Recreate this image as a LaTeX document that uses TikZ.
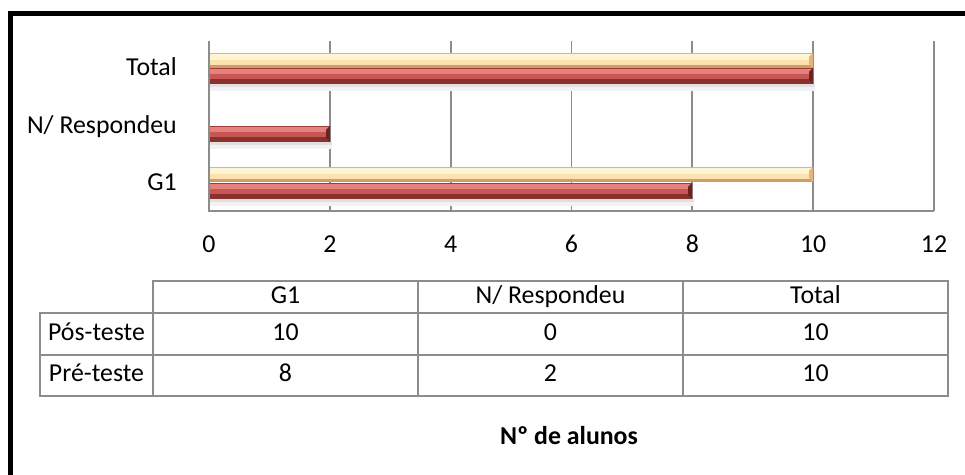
\documentclass[tikz,border=0pt]{standalone}
\usepackage{fontspec}
\setmainfont{Carlito}
\usetikzlibrary{positioning}
\definecolor{grelhacor}{HTML}{8C8C8C}
\definecolor{redA}{HTML}{A03D3A}
\definecolor{redB}{HTML}{E5827E}
\definecolor{redC}{HTML}{C65754}
\definecolor{redD}{HTML}{8C302D}
\definecolor{redE}{HTML}{6E2220}
\definecolor{yelA}{HTML}{E3B083}
\definecolor{yelB}{HTML}{FFF5D3}
\definecolor{yelC}{HTML}{FCE2AE}
\definecolor{yelD}{HTML}{D39C66}
\definecolor{yelE}{HTML}{E9B27C}
% barra de x0 a x1, topo em y0
\newcommand{\barrapre}[3]{%
  \fill[black!12] (#1,#3+16) rectangle (#2+2,#3+19);
  \fill[black!5] (#1,#3+19) rectangle (#2+2,#3+23);
  \fill[redA] (#1,#3) rectangle (#2,#3+1.5);
  \fill[redB] (#1,#3+1.5) rectangle (#2,#3+6);
  \fill[redC] (#1,#3+6) rectangle (#2,#3+11);
  \fill[redD] (#1,#3+11) rectangle (#2,#3+16);
  \fill[redE] (#2,#3) -- (#2,#3+16) -- (#2-4,#3+12) -- (#2-4,#3+4) -- cycle;}
\newcommand{\barrapos}[3]{%
  \fill[yelA] (#1,#3) rectangle (#2,#3+1.5);
  \fill[yelB] (#1,#3+1.5) rectangle (#2,#3+7);
  \fill[yelC] (#1,#3+7) rectangle (#2,#3+12);
  \fill[yelD] (#1,#3+12) rectangle (#2,#3+15);
  \fill[yelE] (#2,#3) -- (#2,#3+15) -- (#2-4,#3+11) -- (#2-4,#3+4) -- cycle;}

\begin{document}
\begin{tikzpicture}[x=0.02cm,y=-0.02cm,font=\fontsize{14.7}{17}\selectfont,
  every node/.style={text height=10pt,text depth=3pt}]
\tikzstyle{grelha} = [grelhacor,line width=1.1pt]
\tikzstyle{celula} = [grelhacor,line width=0.9pt]
\useasboundingbox (0,0) rectangle (965,475);
% moldura
\draw[line width=2.7pt] (10.5,475) -- (10.5,13.5) -- (965,13.5);
% grelha
\foreach \x in {2,4,...,12}
  \draw[grelha] ({209+60.42*\x},41) -- ({209+60.42*\x},211);
% barras
\barrapos{209}{813}{53}
\barrapre{209}{813}{68}
\barrapre{209}{330}{126}
\barrapos{209}{813}{167}
\barrapre{209}{692}{183}
\draw[grelha] (209,41) -- (209,211) -- (934,211);
\node[anchor=east] (tot) at (183,69) {Total};
\node[anchor=east] (nr) at (183,127) {N/ Respondeu};
\node[anchor=east] (g1) at (183,184) {G1};
\foreach \x in {0,2,...,12}
  \node (x\x) at ({209+60.42*\x},246) {\x};
% tabela
\draw[celula] (153,281) rectangle (948,313);
\draw[celula] (40,313) rectangle (948,396);
\draw[celula] (40,355) -- (948,355);
\foreach \x in {153,418,683}
  \draw[celula] (\x,281) -- (\x,396);
\node (h1) at (285.5,297) {G1};
\node (h2) at (550.5,297) {N/ Respondeu};
\node (h3) at (815.5,297) {Total};
\node (r1) at (96.5,334) {Pós-teste};
\node (r2) at (96.5,375.5) {Pré-teste};
\node (a1) at (285.5,334) {10};
\node (a2) at (550.5,334) {0};
\node (a3) at (815.5,334) {10};
\node (b1) at (285.5,375.5) {8};
\node (b2) at (550.5,375.5) {2};
\node (b3) at (815.5,375.5) {10};
\node[font=\fontsize{14.7}{17}\selectfont\bfseries] (eixo) at (569,438) {Nº de alunos};
\end{tikzpicture}
\end{document}
